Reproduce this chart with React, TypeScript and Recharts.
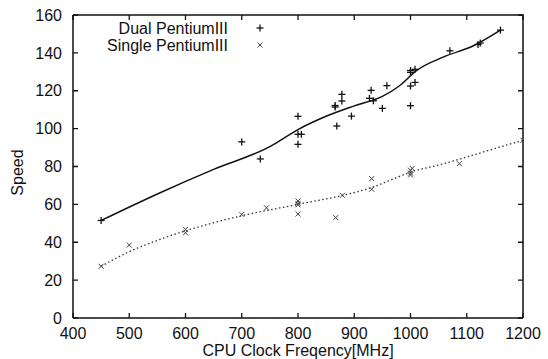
import React from 'react';
import { ComposedChart, Scatter, Line, XAxis, YAxis, Customized } from 'recharts';

// Dual PentiumIII measurements
const dualMHz = [450, 700, 733, 800, 800, 806, 800, 866, 866, 869, 878, 878, 895, 930, 927, 934, 950, 958, 1000, 1000, 1000, 1000, 1008, 1008, 1070, 1120, 1124, 1160];
const dualSpeed = [51.5, 93, 84, 106.5, 97, 97, 91.7, 111.4, 112.2, 101.4, 118.1, 114.6, 106.6, 120.2, 116, 114.7, 110.7, 122.7, 129.7, 130.7, 122.5, 112.1, 131.3, 124.4, 141.1, 144.4, 145.2, 152];

// Single PentiumIII measurements
const singleMHz = [450, 500, 600, 600, 700, 744, 800, 800, 800, 800, 867, 879, 931, 931, 1000, 1000, 1000, 1003, 1087, 1200];
const singleSpeed = [27.3, 38.5, 46.8, 45, 54.7, 58.2, 61.8, 60.5, 59.8, 54.9, 53, 64.8, 73.6, 68, 78, 76.5, 75.5, 79, 81.5, 93.8];

// Fitted curves
const dualFitMHz = [450, 550, 650, 750, 800, 850, 900, 950, 980, 1010, 1060, 1110, 1160];
const dualFitSpeed = [51.5, 65.5, 78.5, 90.5, 99.5, 106.5, 112, 117, 122.5, 130.5, 138, 143.5, 152];
const singleFitMHz = [450, 500, 550, 600, 700, 800, 880, 930, 970, 1000, 1050, 1100, 1150, 1200];
const singleFitSpeed = [27.3, 35, 41, 46, 54, 60, 64.8, 68.8, 73.5, 77, 80.8, 85, 89.5, 93.8];

const xDomain = [400, 1200];
const yDomain = [0, 160];
const xTicks = [400, 500, 600, 700, 800, 900, 1000, 1100, 1200];
const yTicks = [0, 20, 40, 60, 80, 100, 120, 140, 160];

const seriesNames = ['Dual PentiumIII', 'Single PentiumIII'];
const axisTitles = { x: 'CPU Clock Freqency[MHz]', y: 'Speed' };

const zip = (xs: number[], ys: number[]) => xs.map((x, i) => ({ x, y: ys[i] }));
const dualPts = zip(dualMHz, dualSpeed);
const singlePts = zip(singleMHz, singleSpeed);
const dualFit = zip(dualFitMHz, dualFitSpeed);
const singleFit = zip(singleFitMHz, singleFitSpeed);

const FONT = '"Liberation Sans", Arial, sans-serif';
const INK = '#111';
const TICK = 5;

const MARGIN = { top: 15, right: 25, bottom: 0, left: 0 };
const CHART_W = 548;
const CHART_H = 359;
const X_AXIS_H = 41;
const Y_AXIS_W = 73;
const PLOT = {
  x: MARGIN.left + Y_AXIS_W,
  y: MARGIN.top,
  width: CHART_W - MARGIN.left - MARGIN.right - Y_AXIS_W,
  height: CHART_H - MARGIN.top - MARGIN.bottom - X_AXIS_H,
};

const Plus = (props: any) => {
  const { cx, cy } = props;
  if (cx == null || cy == null) return null;
  return (
    <g stroke={INK} strokeWidth={1.3}>
      <line x1={cx - 3.5} y1={cy} x2={cx + 3.5} y2={cy} />
      <line x1={cx} y1={cy - 3.5} x2={cx} y2={cy + 3.5} />
    </g>
  );
};

const Cross = (props: any) => {
  const { cx, cy } = props;
  if (cx == null || cy == null) return null;
  return (
    <g stroke="#444" strokeWidth={1}>
      <line x1={cx - 2.5} y1={cy - 2.5} x2={cx + 2.5} y2={cy + 2.5} />
      <line x1={cx - 2.5} y1={cy + 2.5} x2={cx + 2.5} y2={cy - 2.5} />
    </g>
  );
};

// gnuplot-style frame (top/right borders, inward ticks on all sides) plus the key
const Overlay = () => {
  const left = PLOT.x;
  const right = PLOT.x + PLOT.width;
  const top = PLOT.y;
  const bottom = PLOT.y + PLOT.height;
  const sx = (v: number) => left + ((v - xDomain[0]) / (xDomain[1] - xDomain[0])) * PLOT.width;
  const sy = (v: number) => bottom - ((v - yDomain[0]) / (yDomain[1] - yDomain[0])) * PLOT.height;
  return (
    <g>
      <path d={`M${left},${top}H${right}V${bottom}`} stroke={INK} strokeWidth={1.5} fill="none" />
      {xTicks.map((t) => (
        <path
          key={`x${t}`}
          d={`M${sx(t)},${bottom}V${bottom - TICK}M${sx(t)},${top}V${top + TICK}`}
          stroke={INK}
          strokeWidth={1.3}
          fill="none"
        />
      ))}
      {yTicks.map((t) => (
        <path
          key={`y${t}`}
          d={`M${left},${sy(t)}H${left + TICK}M${right},${sy(t)}H${right - TICK}`}
          stroke={INK}
          strokeWidth={1.3}
          fill="none"
        />
      ))}
      <g fontFamily={FONT} fontSize={16} fill={INK}>
        {seriesNames.map((name, i) => {
          const y = 28 + i * 17;
          return (
            <g key={name}>
              <text x={228} y={y} textAnchor="end" dominantBaseline="central">{name}</text>
              {i === 0 ? <Plus cx={260} cy={y} /> : <Cross cx={260} cy={y} />}
            </g>
          );
        })}
      </g>
    </g>
  );
};

const SpeedLabel = (p: any) => {
  const vb = p.viewBox || { x: 0, y: 15, width: 73, height: 303 };
  const cx = vb.x + 17;
  const cy = vb.y + vb.height / 2 + 6;
  return (
    <text x={cx} y={cy} transform={`rotate(-90 ${cx} ${cy})`} textAnchor="middle" dominantBaseline="central" fill={INK} fontSize={16} fontFamily={FONT}>
      {axisTitles.y}
    </text>
  );
};

const tickText = { fill: INK, fontSize: 16, fontFamily: FONT };

export default function App() {
  return (
    <div style={{ position: 'absolute', left: 0, top: 0, background: '#fff' }}>
      <ComposedChart width={CHART_W} height={CHART_H} margin={MARGIN}>
        <XAxis
          type="number"
          dataKey="x"
          domain={xDomain}
          ticks={xTicks}
          allowDataOverflow
          tickLine={false}
          tickMargin={4}
          height={X_AXIS_H}
          stroke={INK}
          strokeWidth={1.5}
          tick={tickText}
          label={{ value: axisTitles.x, position: 'insideBottom', offset: 3, fill: INK, fontSize: 16, fontFamily: FONT }}
        />
        <YAxis
          type="number"
          dataKey="y"
          domain={yDomain}
          ticks={yTicks}
          allowDataOverflow
          tickLine={false}
          tickMargin={5}
          width={Y_AXIS_W}
          stroke={INK}
          strokeWidth={1.5}
          tick={tickText}
          label={<SpeedLabel />}
        />
        <Line data={dualFit} dataKey="y" type="monotone" stroke={INK} strokeWidth={1.5} dot={false} isAnimationActive={false} />
        <Line data={singleFit} dataKey="y" type="monotone" stroke="#333" strokeWidth={1.3} strokeDasharray="1.5 2.5" dot={false} isAnimationActive={false} />
        <Scatter data={dualPts} shape={<Plus />} isAnimationActive={false} />
        <Scatter data={singlePts} shape={<Cross />} isAnimationActive={false} />
        <Customized component={Overlay} />
      </ComposedChart>
    </div>
  );
}
